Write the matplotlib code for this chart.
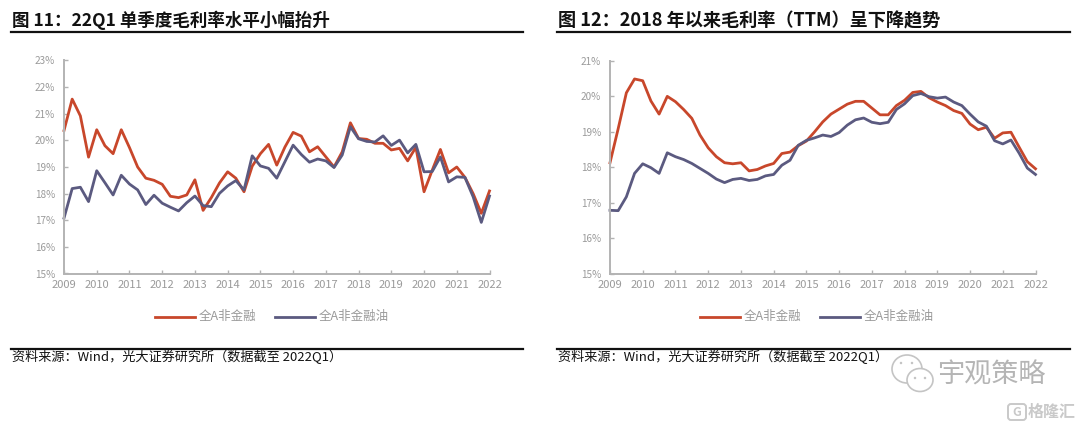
import numpy as np
import matplotlib
matplotlib.use('Agg')
import matplotlib.pyplot as plt
from matplotlib.patches import Ellipse, FancyBboxPatch
from matplotlib.lines import Line2D

plt.rcParams['font.family'] = ['Noto Sans CJK SC', 'DejaVu Sans']

W, H = 1080, 423

years = ['2009', '2010', '2011', '2012', '2013', '2014', '2015', '2016', '2017', '2018', '2019', '2020', '2021', '2022']
name_red = '全A非金融'
name_blue = '全A非金融油'

# chart 11, single quarter gross margin
q_red = [20.37, 21.55, 20.92, 19.37, 20.4, 19.8, 19.5, 20.4, 19.73, 19.0, 18.58, 18.5, 18.35, 17.9, 17.85, 17.95,
         18.52, 17.37, 17.85, 18.4, 18.82, 18.58, 18.07, 19.03, 19.5, 19.85, 19.07, 19.75, 20.3, 20.16, 19.57, 19.76,
         19.38, 19.0, 19.57, 20.66, 20.07, 20.04, 19.89, 19.89, 19.64, 19.7, 19.23, 19.74, 18.07, 18.88, 19.66, 18.78,
         19.0, 18.61, 18.0, 17.26, 18.1]
q_blue = [17.08, 18.19, 18.24, 17.7, 18.86, 18.41, 17.95, 18.69, 18.36, 18.14, 17.59, 17.94, 17.64, 17.49, 17.35, 17.66,
          17.91, 17.55, 17.51, 18.01, 18.29, 18.49, 18.14, 19.42, 19.04, 18.95, 18.58, 19.2, 19.82, 19.47, 19.18, 19.3,
          19.23, 18.98, 19.45, 20.51, 20.06, 19.96, 19.94, 20.17, 19.81, 20.01, 19.53, 19.85, 18.82, 18.83, 19.38, 18.44,
          18.63, 18.61, 17.88, 16.92, 17.91]

# chart 12, TTM gross margin
t_red = [18.12, 19.08, 20.09, 20.48, 20.43, 19.86, 19.49, 19.99, 19.84, 19.62, 19.37, 18.9, 18.54, 18.29, 18.12, 18.09,
         18.12, 17.89, 17.93, 18.03, 18.1, 18.38, 18.42, 18.6, 18.73, 18.99, 19.27, 19.49, 19.63, 19.77, 19.85, 19.85,
         19.66, 19.47, 19.47, 19.73, 19.88, 20.1, 20.13, 19.95, 19.83, 19.73, 19.59, 19.51, 19.21, 19.05, 19.12, 18.81,
         18.96, 18.98, 18.56, 18.15, 17.95]
t_blue = [16.78, 16.77, 17.16, 17.82, 18.09, 17.98, 17.82, 18.4, 18.29, 18.21, 18.1, 17.96, 17.82, 17.66, 17.56, 17.65,
          17.68, 17.62, 17.65, 17.75, 17.79, 18.05, 18.19, 18.61, 18.75, 18.82, 18.9, 18.86, 18.97, 19.18, 19.33, 19.38,
          19.26, 19.22, 19.26, 19.62, 19.78, 20.01, 20.07, 19.98, 19.94, 19.97, 19.83, 19.73, 19.49, 19.27, 19.15, 18.74,
          18.65, 18.76, 18.39, 17.97, 17.79]

RED = '#c8472b'
BLUE = '#5b5a80'
GREY = '#b3b3b3'
LABEL = '#9a9a9a'

fig = plt.figure(figsize=(W / 100, H / 100), dpi=100)


def px_axes(x0, x1, ytop, ybot):
    return fig.add_axes([x0 / W, 1 - ybot / H, (x1 - x0) / W, (ybot - ytop) / H])


def panel(x0, x1, red, blue, ymax, title, tsize, left, right, lx):
    ax = px_axes(x0, x1, 60.5, 273.5)
    x = np.arange(len(red))
    ax.plot(x, red, color=RED, lw=2.0, clip_on=False)
    ax.plot(x, blue, color=BLUE, lw=2.0, clip_on=False)
    ax.set_xlim(0, len(red) - 1)
    ax.set_ylim(15, ymax)
    ax.set_xticks(x[::4])
    ax.set_xticklabels(years)
    yt = np.arange(15, ymax + 1)
    ax.set_yticks(yt)
    ax.set_yticklabels(['%d%%' % v for v in yt])
    ax.tick_params(axis='x', direction='in', length=3, width=1, color=GREY, labelcolor=LABEL, labelsize=8, pad=4.5)
    ax.tick_params(axis='y', direction='in', length=3, width=1, color=GREY, labelcolor=LABEL, labelsize=7.2, pad=6.5)
    for s in ['top', 'right']:
        ax.spines[s].set_visible(False)
    for s in ['left', 'bottom']:
        ax.spines[s].set_color(GREY)
        ax.spines[s].set_linewidth(1.4)

    # legend, placed by hand like in the report
    for start, col, name in [(lx, RED, name_red), (lx + 120, BLUE, name_blue)]:
        fig.add_artist(Line2D([start / W, (start + 40) / W], [1 - 317 / H] * 2, color=col, lw=2.0))
        fig.text((start + 44) / W, 1 - 316.5 / H, name, color=LABEL, fontsize=9, va='center')

    fig.text((left + 1.5) / W, 1 - 20.5 / H, title, fontsize=tsize, fontweight='bold', va='center', color='#111111')
    fig.add_artist(Line2D([left / W, right / W], [1 - 32 / H] * 2, color='#111111', lw=1.6))
    fig.add_artist(Line2D([left / W, right / W], [1 - 349 / H] * 2, color='#111111', lw=1.6))
    fig.text((left + 1) / W, 1 - 357 / H, '资料来源：Wind，光大证券研究所（数据截至 2022Q1）', fontsize=9.45, va='center', color='#111111')
    return ax


panel(64, 489.5, q_red, q_blue, 23, '图 11：22Q1 单季度毛利率水平小幅抬升', 12.6, 10.5, 523, 155)
panel(610, 1035.5, t_red, t_blue, 21, '图 12：2018 年以来毛利率（TTM）呈下降趋势', 13.1, 557, 1070, 700)

# watermark in the bottom right corner
bg = fig.add_axes([0, 0, 1, 1], zorder=5)
bg.set_xlim(0, W)
bg.set_ylim(H, 0)
bg.axis('off')
bg.add_patch(Ellipse((907, 369), 30, 28, fc='white', ec='#c4c4c4', lw=1.2))
bg.add_patch(Ellipse((920, 380), 26, 23, fc='white', ec='#c4c4c4', lw=1.2))
for cx, cy in [(901, 363), (912, 363), (915, 378), (925, 378)]:
    bg.add_patch(Ellipse((cx, cy), 2.5, 2.5, fc='#c4c4c4', ec='none'))
bg.text(991, 375, '宇观策略', fontsize=19.5, color='#b5b5b5', ha='center', va='center')
bg.add_patch(FancyBboxPatch((1009, 405), 16, 14, boxstyle='round,pad=1,rounding_size=3', fc='none', ec='#c9c9c9', lw=1.4))
bg.text(1017, 412, 'G', fontsize=9, color='#c9c9c9', ha='center', va='center', fontweight='bold')
bg.text(1052, 412, '格隆汇', fontsize=11.5, color='#c9c9c9', ha='center', va='center', fontweight='bold')

fig.savefig('out.png', dpi=100)
